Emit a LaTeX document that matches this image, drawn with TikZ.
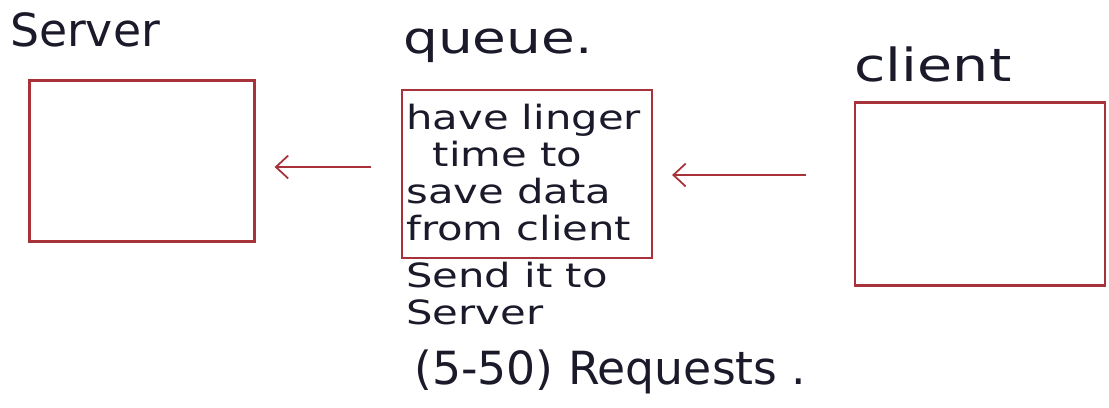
\documentclass[tikz,border=0pt]{standalone}
\usepackage{fontspec}
\setmainfont{DejaVu Sans}
\newfontfamily\widefont[FakeStretch=1.25]{DejaVu Sans}
\usetikzlibrary{arrows.meta}
\definecolor{boxred}{HTML}{A8323A}
\definecolor{ink}{HTML}{1A1A2A}
\tikzset{
  hbox/.style={draw=boxred, line width=1.3pt, rectangle, inner sep=0pt},
  lbl/.style={text=ink, inner sep=0pt},
  body/.style={text=ink, inner sep=0pt, align=left, font=\widefont\fontsize{19}{21}\selectfont},
  arr/.style={draw=boxred, line width=1pt, -{Straight Barb[length=7pt,width=13pt]}}
}
\begin{document}
\begin{tikzpicture}[x=0.02cm,y=-0.02cm]
\useasboundingbox (0,0) rectangle (1109,407);
% boxes
\node[hbox, minimum width=4.5cm, minimum height=3.22cm] (server) at (142,161) {};
\node[hbox, minimum width=5.0cm, minimum height=3.36cm] (queue) at (527,174) {};
\node[hbox, minimum width=5.0cm, minimum height=3.66cm] (client) at (980,194) {};
% titles
\node[lbl, font=\fontsize{26}{28}\selectfont] (tserver) at (85,30) {Server};
\node[lbl, font=\widefont\fontsize{25}{27}\selectfont] (tqueue) at (498,46) {queue.};
\node[lbl, font=\widefont\fontsize{26}{28}\selectfont] (tclient) at (933,64) {client};
% queue text
\node[body, anchor=north west] (qtext) at (406,104) {have linger\\\ \ time to\\save data\\from client};
\node[body, anchor=north west] (send) at (406,262) {Send it to\\Server};
\node[lbl, font=\fontsize{26}{28}\selectfont, anchor=west] (req) at (414,372) {(5-50) Requests .};
% arrows
\coordinate (yl) at (0,167);
\coordinate (yr) at (0,175);
\draw[arr, shorten <=28pt*0.6, shorten >=18pt*0.6] (queue.west |- yl) -- (server.east |- yl);
\draw[arr, shorten <=45pt*0.6, shorten >=18pt*0.6] (client.west |- yr) -- (queue.east |- yr);
\end{tikzpicture}
\end{document}
